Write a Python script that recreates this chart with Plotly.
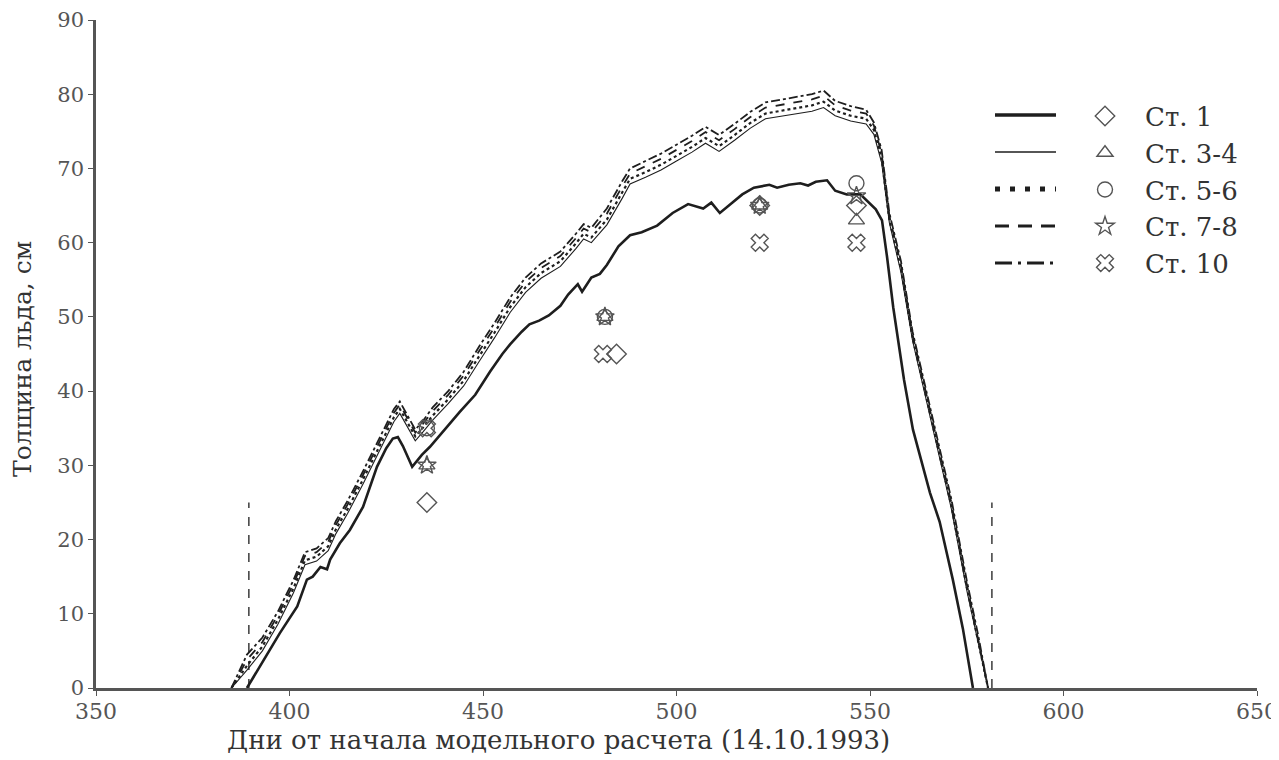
import plotly.graph_objects as go

# ---------------- data ----------------
# model days for upper group of stations
DAYS_UP = [385, 389, 393, 397, 401, 404, 407, 410, 412, 415, 419, 423, 427, 428.5, 430.5,
           432.5, 434.5, 437, 441, 445, 449, 453, 457, 461, 465, 470, 474, 476, 478, 482,
           486, 488, 492, 496, 500, 504, 507.5, 511, 515, 519, 523, 527, 531, 535, 538,
           541, 545, 549, 551, 553, 555, 558, 561, 564, 567, 571, 575, 578, 580.5]

ST10_MODEL = [0, 4.5, 6.8, 10.3, 14.5, 18.3, 18.8, 20.2, 22.5, 25.2, 29.2, 33.3, 37.6, 38.6, 36.6,
              34.8, 36.0, 37.8, 40.0, 42.6, 46.0, 49.2, 52.6, 55.3, 57.2, 58.8, 61.2, 62.5, 62.0, 64.6,
              68.3, 70.0, 71.0, 72.0, 73.2, 74.4, 75.6, 74.5, 76.0, 77.6, 78.9, 79.3, 79.6, 80.0, 80.5,
              79.1, 78.4, 77.9, 76.2, 72.5, 64.0, 57.5, 48.0, 41.2, 34.5, 25.5, 14.5, 7.0, 0]

ST78_MODEL = [0, 3.8, 6.2, 9.8, 14.0, 17.8, 18.3, 19.7, 22.0, 24.7, 28.7, 32.8, 37.1, 38.2, 36.2,
              34.4, 35.6, 37.3, 39.5, 42.1, 45.4, 48.6, 52.0, 54.7, 56.6, 58.2, 60.6, 61.9, 61.4, 63.9,
              67.6, 69.3, 70.3, 71.3, 72.5, 73.7, 74.9, 73.8, 75.3, 76.9, 78.2, 78.6, 78.9, 79.3, 79.8,
              78.5, 77.8, 77.4, 75.8, 72.0, 63.6, 57.0, 47.6, 40.8, 34.0, 25.0, 14.0, 6.6, 0]

ST56_MODEL = [0, 3.0, 5.6, 9.2, 13.4, 17.2, 17.7, 19.1, 21.4, 24.1, 28.1, 32.2, 36.5, 37.6, 35.7,
              33.9, 35.1, 36.7, 38.9, 41.4, 44.7, 47.9, 51.3, 54.0, 55.9, 57.5, 59.9, 61.2, 60.7, 63.1,
              66.8, 68.6, 69.5, 70.5, 71.7, 72.9, 74.1, 73.0, 74.5, 76.1, 77.4, 77.8, 78.1, 78.5, 79.0,
              77.8, 77.1, 76.7, 75.2, 71.4, 63.1, 56.5, 47.2, 40.4, 33.6, 24.6, 13.6, 6.2, 0]

ST34_MODEL = [0, 2.4, 5.0, 8.6, 12.8, 16.6, 17.1, 18.5, 20.8, 23.5, 27.5, 31.6, 35.9, 37.0, 35.1,
              33.3, 34.5, 36.1, 38.3, 40.7, 44.0, 47.2, 50.6, 53.3, 55.2, 56.8, 59.2, 60.5, 60.0, 62.4,
              66.0, 67.9, 68.8, 69.8, 71.0, 72.2, 73.4, 72.3, 73.8, 75.4, 76.7, 77.0, 77.3, 77.7, 78.2,
              77.1, 76.4, 76.0, 74.6, 70.8, 62.7, 56.0, 46.8, 40.0, 33.2, 24.2, 13.2, 5.8, 0]

# station 1 model
DAYS_ST1 = [389, 393, 397.5, 402, 404.5, 406, 408, 409.7, 410.5, 413, 415.6, 419, 422.6, 425, 426.7,
            428, 429.3, 431.7, 434.2, 436.3, 440, 444, 448, 451.8, 455, 457, 460, 462, 464.5, 467,
            470, 472, 474.5, 475.6, 478, 480.2, 482, 485, 488, 491, 495, 499, 503, 506.9, 509,
            511.2, 514, 517, 520, 524, 526, 529, 532, 534, 536, 538.9, 541, 544, 547.5, 550,
            551.5, 553.1, 554.4, 556, 558.8, 561.1, 563, 565.5, 568, 571.4, 574, 576.6]
ST1_MODEL = [0, 3.4, 7.4, 11.0, 14.6, 15.0, 16.3, 16.0, 17.3, 19.5, 21.3, 24.4, 29.8, 32.3, 33.6,
             33.8, 32.6, 29.8, 31.4, 32.5, 34.8, 37.2, 39.5, 42.6, 45.0, 46.3, 48.0, 49.0, 49.5, 50.2,
             51.5, 53.0, 54.4, 53.4, 55.3, 55.8, 57.0, 59.5, 61.0, 61.4, 62.3, 64.0, 65.2, 64.6, 65.4,
             64.0, 65.2, 66.5, 67.4, 67.8, 67.4, 67.8, 68.0, 67.7, 68.2, 68.4, 67.0, 66.5, 66.5, 65.2,
             64.5, 63.0, 58.1, 51.3, 41.5, 34.8, 31.0, 26.3, 22.4, 14.6, 8.0, 0]

# observations
OBS_DAYS_ST1 = [435.5, 484.5, 521.5, 546.5]
OBS_ST1 = [25, 45, 65, 65]
OBS_DAYS_ST34 = [435.5, 481.5, 521.5, 546.5]
OBS_ST34 = [30, 50, 65, 63]
OBS_DAYS_ST56 = [435.5, 481.5, 521.5, 546.5]
OBS_ST56 = [35, 50, 65, 68]
OBS_DAYS_ST78 = [435.5, 481.5, 521.5, 546.5]
OBS_ST78 = [30, 50, 65, 66.3]
OBS_DAYS_ST10 = [435.5, 481, 521.5, 546.5]
OBS_ST10 = [35, 45, 60, 60]

# ice period boundaries
ICE_BOUNDS = [389.5, 581.5]
ICE_MARK_HEIGHT = 25

NAMES = ["Ст. 1", "Ст. 3-4", "Ст. 5-6", "Ст. 7-8", "Ст. 10"]

X_TICKS = [350, 400, 450, 500, 550, 600, 650]
Y_TICKS = [0, 10, 20, 30, 40, 50, 60, 70, 80, 90]

# ---------------- figure ----------------
FONT = "DejaVu Serif"
LINE_C = "#1e1e1e"
MARK_C = "#555555"
AX_C = "#555555"
PAGE_OFF = 8  # default body margin of the html page

fig = go.Figure()

model_specs = [
    (DAYS_ST1, ST1_MODEL, dict(width=2.6, dash="solid")),
    (DAYS_UP, ST34_MODEL, dict(width=1.1, dash="solid")),
    (DAYS_UP, ST56_MODEL, dict(width=2.2, dash="dot")),
    (DAYS_UP, ST78_MODEL, dict(width=1.8, dash="dash")),
    (DAYS_UP, ST10_MODEL, dict(width=1.8, dash="dashdot")),
]
for (dx, dy, st), name in zip(model_specs, NAMES):
    fig.add_trace(go.Scatter(x=dx, y=dy, mode="lines", name=name, showlegend=False,
                             line=dict(color=LINE_C, width=st["width"], dash=st["dash"])))

for bx in ICE_BOUNDS:
    fig.add_trace(go.Scatter(x=[bx, bx], y=[0, ICE_MARK_HEIGHT], mode="lines", showlegend=False,
                             line=dict(color=LINE_C, width=1.3, dash="dash"), hoverinfo="skip"))

obs_specs = [
    (OBS_DAYS_ST1, OBS_ST1, "diamond-open", 15),
    (OBS_DAYS_ST34, OBS_ST34, "triangle-up-open", 14),
    (OBS_DAYS_ST56, OBS_ST56, "circle-open", 15),
    (OBS_DAYS_ST78, OBS_ST78, "star-open", 14),
    (OBS_DAYS_ST10, OBS_ST10, "x-open", 15),
]
for (dx, dy, sym, sz), name in zip(obs_specs, NAMES):
    fig.add_trace(go.Scatter(x=dx, y=dy, mode="markers", name=name,
                             marker=dict(symbol=sym, size=sz, color=MARK_C,
                                         line=dict(color=MARK_C, width=1.4))))

# target plot area in page pixels
PLOT_L, PLOT_R, PLOT_T, PLOT_B = 96, 1257, 20, 688
def px_to_paper_x(px):
    return (px - PLOT_L) / (PLOT_R - PLOT_L)
def px_to_paper_y(py):
    return (PLOT_B - py) / (PLOT_B - PLOT_T)

# legend line samples
legend_rows_px = [115, 152, 189, 226, 263]
sample_styles = [
    dict(width=3.6, dash="solid"),
    dict(width=1.4, dash="solid"),
    dict(width=5, dash="5px,10px"),
    dict(width=3, dash="14px,9px"),
    dict(width=3, dash="17px,6px,3px,6px"),
]
for st, row in zip(sample_styles, legend_rows_px):
    fig.add_shape(type="line", xref="paper", yref="paper",
                  x0=px_to_paper_x(995), x1=px_to_paper_x(1056),
                  y0=px_to_paper_y(row), y1=px_to_paper_y(row),
                  line=dict(color=LINE_C, width=st["width"], dash=st["dash"]))

fig.add_annotation(text="Дни от начала модельного расчета (14.10.1993)",
                   xref="paper", yref="paper", x=px_to_paper_x(558), y=px_to_paper_y(740),
                   xanchor="center", yanchor="middle", showarrow=False,
                   font=dict(family=FONT, size=26, color="#333333"))
fig.add_annotation(text="Толщина льда, см", textangle=-90,
                   xref="paper", yref="paper", x=px_to_paper_x(23), y=px_to_paper_y(359),
                   xanchor="center", yanchor="middle", showarrow=False,
                   font=dict(family=FONT, size=25, color="#333333"))

fig.update_layout(
    width=1279, height=760,
    margin=dict(l=PLOT_L - PAGE_OFF, r=1279 - PLOT_R + PAGE_OFF,
                t=PLOT_T - PAGE_OFF, b=760 - PLOT_B + PAGE_OFF),
    paper_bgcolor="white", plot_bgcolor="white",
    font=dict(family=FONT, color="#444444"),
    legend=dict(x=px_to_paper_x(1065), y=px_to_paper_y(92.5), xanchor="left", yanchor="top",
                font=dict(family=FONT, size=26, color="#333333"),
                bgcolor="rgba(0,0,0,0)", itemwidth=70, itemsizing="trace"),
    xaxis=dict(range=[350, 650], tickvals=X_TICKS, showgrid=False, zeroline=False,
               automargin=False, ticklabelstandoff=-3,
               showline=True, linecolor=AX_C, linewidth=2.5, ticks="outside", ticklen=5,
               tickcolor=AX_C, tickfont=dict(family=FONT, size=22, color="#555555")),
    yaxis=dict(range=[0, 90], tickvals=Y_TICKS, showgrid=False, zeroline=False,
               automargin=False, ticklabelstandoff=0,
               showline=True, linecolor=AX_C, linewidth=2.5, ticks="outside", ticklen=5,
               tickcolor=AX_C, tickfont=dict(family=FONT, size=21, color="#555555")),
)

fig.write_html("out.html")
